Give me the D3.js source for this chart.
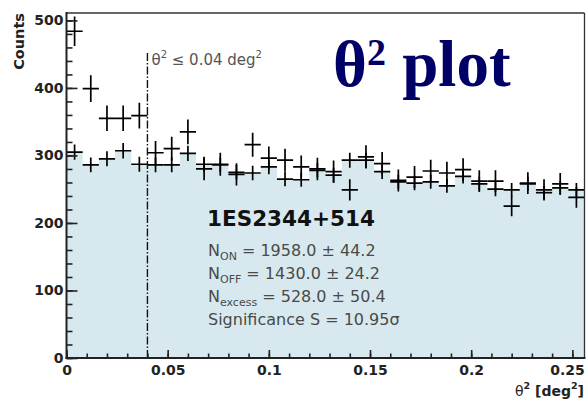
<!DOCTYPE html>
<html>
<head>
<meta charset="utf-8">
<script src="https://cdn.jsdelivr.net/npm/d3@7"></script>
<style>
  html, body { margin: 0; padding: 0; background: #ffffff; }
  svg { display: block; }
</style>
</head>
<body>
<svg id="chart" width="587" height="400"></svg>
<script>
// ---------------- data ----------------
const binCenters = [0.004, 0.012, 0.020, 0.028, 0.036, 0.044, 0.052, 0.060,
                    0.068, 0.076, 0.084, 0.092, 0.100, 0.108, 0.116, 0.124,
                    0.132, 0.140, 0.148, 0.156, 0.164, 0.172, 0.180, 0.188,
                    0.196, 0.204, 0.212, 0.220, 0.228, 0.236, 0.244, 0.252];
const binWidth = 0.008;
const onCounts  = [484, 399, 355, 355, 359, 304, 310, 335, 280, 287, 272, 316, 296, 293, 283, 280,
                   276, 249, 298, 288, 263, 268, 277, 274, 279, 262, 262, 225, 259, 249, 258, 238];
const offCounts = [305, 286, 295, 307, 287, 286, 286, 303, 287, 286, 275, 274, 283, 265, 264, 278,
                   271, 293, 293, 276, 261, 259, 261, 255, 269, 258, 250, 249, 258, 245, 252, 249];
const offAlpha = 0.42;           // normalisation of OFF counts (sets its error bars)
const cutValue = 0.04;
const yTickValues = [0, 100, 200, 300, 400, 500];
const yTickLabels = ["0", "100", "200", "300", "400", "500"];
const xTickValues = [0, 0.05, 0.1, 0.15, 0.2, 0.25];
const xTickLabels = ["0", "0.05", "0.1", "0.15", "0.2", "0.25"];
const statLines = [
  {main: "N", sub: "ON", rest: " = 1958.0 \u00b1 44.2"},
  {main: "N", sub: "OFF", rest: " = 1430.0 \u00b1 24.2"},
  {main: "N", sub: "excess", rest: " = 528.0 \u00b1 50.4"},
  {main: "Significance S = 10.95\u03c3", sub: "", rest: ""}
];
const sourceName = "1ES2344+514";

// ---------------- layout ----------------
const svg = d3.select("#chart");
const L = 66.5, R = 584.5, T = 13, B = 358;
const x = d3.scaleLinear().domain([0, 0.256]).range([L, R]);
const y = d3.scaleLinear().domain([0, 511]).range([B, T]);
const AX = "DejaVu Sans, Verdana, sans-serif";

svg.append("defs").append("clipPath").attr("id", "plotclip")
  .append("rect").attr("x", L).attr("y", T).attr("width", R - L).attr("height", B - T);

// OFF histogram fill (step area)
const stepPts = [];
binCenters.forEach((c, i) => {
  stepPts.push([c - binWidth / 2, offCounts[i]]);
  stepPts.push([c + binWidth / 2, offCounts[i]]);
});
svg.append("path")
  .datum(stepPts)
  .attr("clip-path", "url(#plotclip)")
  .attr("fill", "#d7e9ef")
  .attr("d", d3.area().x(d => x(d[0])).y0(y(0)).y1(d => y(d[1])));

// crosses
function drawCrosses(values, errFn, cls) {
  const g = svg.append("g").attr("class", cls).attr("clip-path", "url(#plotclip)")
    .attr("stroke", "#000").attr("stroke-width", 1.7);
  g.selectAll("line.h").data(values).join("line").attr("class", "h")
    .attr("x1", (d, i) => x(binCenters[i] - binWidth / 2))
    .attr("x2", (d, i) => x(binCenters[i] + binWidth / 2))
    .attr("y1", d => y(d)).attr("y2", d => y(d));
  g.selectAll("line.v").data(values).join("line").attr("class", "v")
    .attr("x1", (d, i) => x(binCenters[i])).attr("x2", (d, i) => x(binCenters[i]))
    .attr("y1", d => y(d - errFn(d))).attr("y2", d => y(d + errFn(d)));
}
drawCrosses(offCounts, d => Math.sqrt(offAlpha * d), "off");
drawCrosses(onCounts, d => Math.sqrt(d), "on");

// cut line
svg.append("line")
  .attr("x1", x(cutValue)).attr("x2", x(cutValue))
  .attr("y1", y(0)).attr("y2", 53)
  .attr("stroke", "#111").attr("stroke-width", 1.4)
  .attr("stroke-dasharray", "8,2,1.5,2");
const cutLbl = svg.append("text").attr("x", x(cutValue) + 4).attr("y", 65)
  .attr("font-family", AX).attr("font-size", 15).attr("fill", "#555");
cutLbl.append("tspan").text("\u03b8");
cutLbl.append("tspan").attr("font-size", 10).attr("dy", -7).text("2");
cutLbl.append("tspan").attr("dy", 7).text(" \u2264 " + cutValue.toFixed(2) + " deg");
cutLbl.append("tspan").attr("font-size", 10).attr("dy", -7).text("2");

// axes
const yMajor = d3.axisLeft(y).tickValues(yTickValues)
  .tickFormat((d, i) => yTickLabels[i]).tickSize(-11).tickPadding(3);
const yMinor = d3.axisLeft(y).tickValues(d3.range(0, 511, 20)).tickFormat("").tickSize(-6);
const xMajor = d3.axisBottom(x).tickValues(xTickValues)
  .tickFormat((d, i) => xTickLabels[i]).tickSize(-8).tickPadding(7);
const xMinor = d3.axisBottom(x).tickValues(d3.range(0, 26).map(k => k / 100)).tickFormat("").tickSize(-4.5);

function styleAxis(g) {
  g.select(".domain").remove();
  g.selectAll("line").attr("stroke", "#222").attr("stroke-width", 1.6);
  g.selectAll("text").attr("font-family", AX).attr("font-weight", "bold")
    .attr("font-size", 14).attr("fill", "#222");
}
svg.append("g").attr("transform", `translate(${L},0)`).call(yMinor).call(styleAxis);
svg.append("g").attr("transform", `translate(${L},0)`).call(yMajor).call(styleAxis);
svg.append("g").attr("transform", `translate(0,${B})`).call(xMinor).call(styleAxis);
const xg = svg.append("g").attr("transform", `translate(0,${B})`).call(xMajor).call(styleAxis);
// keep the last label inside the canvas, as in the reference
xg.selectAll(".tick text").filter(d => d === 0.25).attr("text-anchor", "end").attr("dx", 12);

// frame
svg.append("line").attr("x1", L).attr("x2", R).attr("y1", T).attr("y2", T).attr("stroke", "#333").attr("stroke-width", 1.3);
svg.append("line").attr("x1", R).attr("x2", R).attr("y1", T).attr("y2", B).attr("stroke", "#333").attr("stroke-width", 1.3);
svg.append("line").attr("x1", L).attr("x2", L).attr("y1", T - 1).attr("y2", B + 1).attr("stroke", "#222").attr("stroke-width", 2);
svg.append("line").attr("x1", L - 1).attr("x2", R + 1).attr("y1", B).attr("y2", B).attr("stroke", "#222").attr("stroke-width", 2.2);

// axis titles
svg.append("text").attr("transform", "translate(24,13) rotate(-90)")
  .attr("text-anchor", "end").attr("font-family", AX).attr("font-weight", "bold")
  .attr("font-size", 14.5).attr("fill", "#222").text("Counts");
const xt = svg.append("text").attr("x", 584).attr("y", 396).attr("text-anchor", "end")
  .attr("font-family", AX).attr("font-size", 14).attr("fill", "#222");
xt.append("tspan").attr("font-weight", "normal").text("\u03b8");
xt.append("tspan").attr("font-size", 9.5).attr("dy", -7).attr("font-weight", "bold").text("2");
xt.append("tspan").attr("dy", 7).attr("font-weight", "bold").text(" [deg");
xt.append("tspan").attr("font-size", 9.5).attr("dy", -7).attr("font-weight", "bold").text("2");
xt.append("tspan").attr("dy", 7).attr("font-weight", "bold").text("]");

// big title
const title = svg.append("text").attr("x", 333).attr("y", 86)
  .attr("font-family", "Liberation Serif, Times New Roman, serif").attr("font-weight", "bold")
  .attr("font-size", 65).attr("fill", "#000066");
title.append("tspan").text("\u03b8");
title.append("tspan").attr("font-size", 38).attr("dy", -21).text("2");
title.append("tspan").attr("dy", 21).text(" plot");

// stats box
svg.append("text").attr("x", 207).attr("y", 226)
  .attr("font-family", AX).attr("font-weight", "bold").attr("font-size", 21.5)
  .attr("fill", "#111").text(sourceName);
const statY = [256, 279, 302, 325];
statLines.forEach((s, i) => {
  const t = svg.append("text").attr("x", 208).attr("y", statY[i])
    .attr("font-family", AX).attr("font-size", 16).attr("fill", "#4a4a4a");
  t.append("tspan").text(s.main);
  if (s.sub) {
    t.append("tspan").attr("font-size", 11).attr("dy", 4).text(s.sub);
    t.append("tspan").attr("dy", -4).text(s.rest);
  }
});
</script>
</body>
</html>
